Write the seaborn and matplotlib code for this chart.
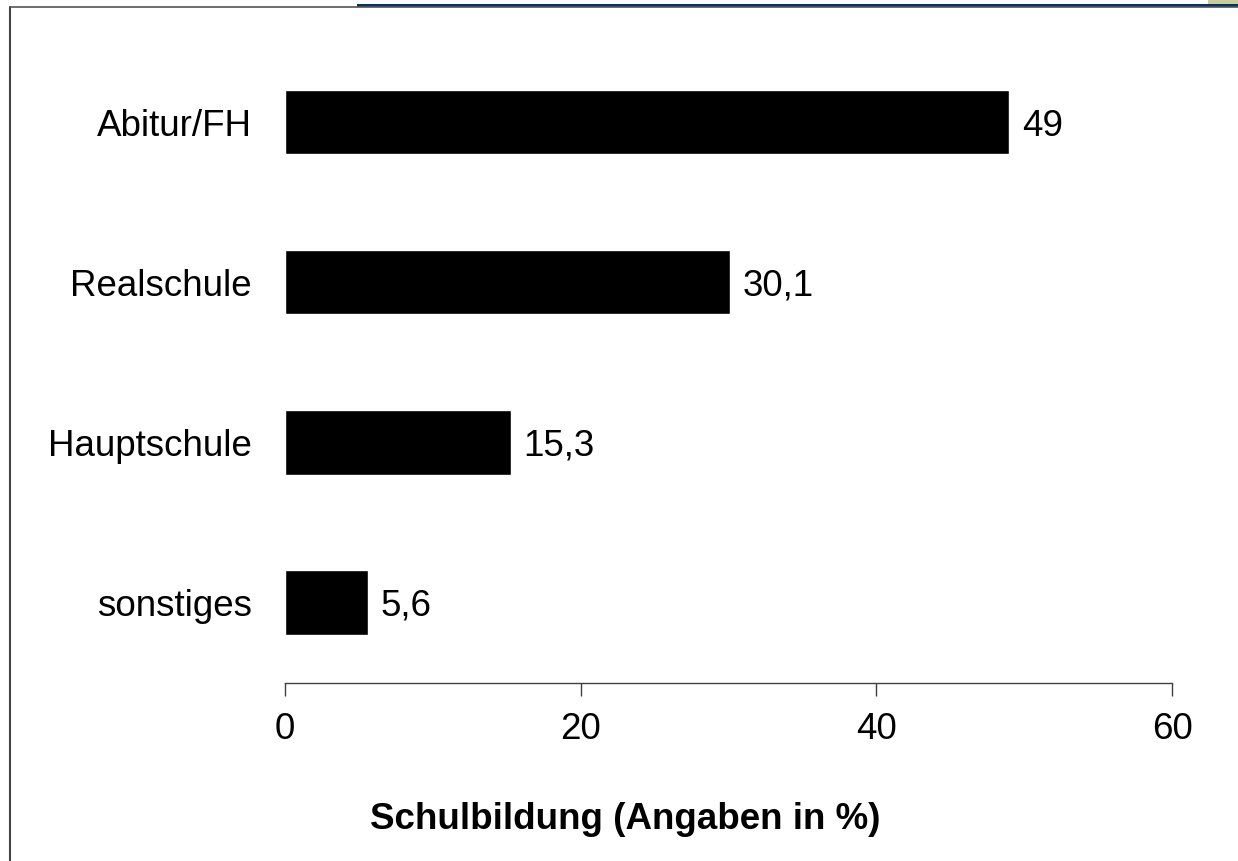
import matplotlib
matplotlib.use('Agg')
import matplotlib.pyplot as plt
import seaborn as sns
import pandas as pd
from matplotlib.lines import Line2D
from matplotlib.patches import Rectangle

# Data
categories = ['Abitur/FH', 'Realschule', 'Hauptschule', 'sonstiges']
values = [49, 30.1, 15.3, 5.6]
xticks = [0, 20, 40, 60]

df = pd.DataFrame({'Schulbildung': categories, 'Prozent': values})

sns.set_style('white')
plt.rcParams['font.family'] = ['Liberation Sans', 'DejaVu Sans']
plt.rcParams['text.color'] = 'black'
plt.rcParams['xtick.color'] = '#404040'
plt.rcParams['xtick.labelcolor'] = 'black'
plt.rcParams['ytick.labelcolor'] = 'black'
plt.rcParams['axes.labelcolor'] = 'black'

W, H = 1238, 861
fig = plt.figure(figsize=(W / 100, H / 100), dpi=100)
ax = fig.add_axes([285 / W, 1 - 683 / H, (1172 - 285) / W, (683 - 42) / H])

sns.barplot(data=df, x='Prozent', y='Schulbildung', orient='h', color='black',
            width=0.406, saturation=1, ax=ax)

ax.set_xlim(0, 60)
ax.set_ylim(3.506, -0.5)
ax.set_xticks(xticks)
ax.set_xticklabels([str(t) for t in xticks])
ax.tick_params(axis='x', labelsize=26.5, length=9, width=1,
               direction='out', pad=12, bottom=True)
ax.tick_params(axis='y', labelsize=26.5, length=0, pad=24)
for t in ax.get_yticklabels():
    t.set_va('center_baseline')

ax.set_ylabel('')
ax.set_xlabel('Schulbildung (Angaben in %)', fontsize=26.5, fontweight='bold')
ax.xaxis.label.set_va('baseline')
ax.xaxis.set_label_coords((625 - 285) / 887, (683 - 829) / 641)

for side in ['top', 'right', 'left']:
    ax.spines[side].set_visible(False)
ax.spines['bottom'].set_color('#404040')
ax.spines['bottom'].set_linewidth(1)

labels = [f'{v:g}'.replace('.', ',') for v in values]
texts = ax.bar_label(ax.containers[0], labels=labels, padding=9, fontsize=26.5,
                     color='black')
for t in texts:
    t.set_va('center_baseline')

# Slide frame
fig.add_artist(Line2D([10 / W, 10 / W], [0, 1 - 7 / H], color='#444444', lw=1.5))
fig.add_artist(Line2D([10 / W, 1], [1 - 7 / H, 1 - 7 / H], color='#555555', lw=1.2))
fig.add_artist(Rectangle((357 / W, 1 - 7 / H), 1 - 357 / W, 3 / H,
                         color='#003366', lw=0))
fig.add_artist(Rectangle((1208 / W, 1 - 4 / H), 30 / W, 4 / H,
                         color='#CCCC99', lw=0))

fig.savefig('out.png', dpi=100)
